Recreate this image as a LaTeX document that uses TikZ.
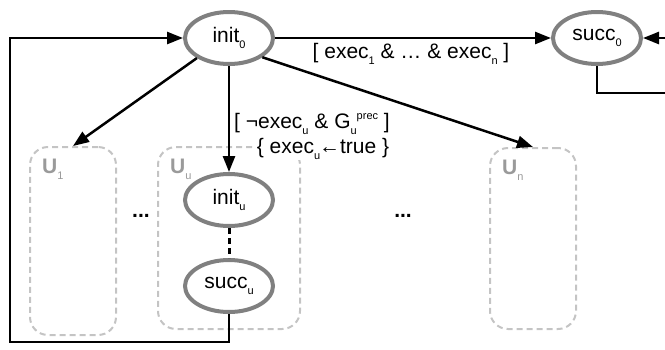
\documentclass[tikz,border=0pt]{standalone}
\usepackage{fontspec}
\setmainfont{Liberation Sans}
\usepackage{tikz}
\usetikzlibrary{arrows.meta,positioning,shapes.geometric}
\definecolor{stategray}{HTML}{808080}
\definecolor{boxgray}{HTML}{C4C4C4}
\definecolor{labelgray}{HTML}{9A9A9A}

% small lowered / raised indices
\newcommand{\subix}[1]{\raisebox{-6pt}{\fontsize{11}{11}\selectfont #1}}
\newcommand{\supix}[1]{\raisebox{9pt}{\fontsize{11}{11}\selectfont #1}}

\tikzset{
    state/.style={ellipse, draw=stategray, line width=4pt, fill=white, minimum width=88pt, minimum height=52pt, inner sep=0pt, font=\fontsize{21}{24}\selectfont},
    unitbox/.style={draw=boxgray, line width=2pt, dash pattern=on 6pt off 4pt, rounded corners=18pt, inner sep=0pt},
    ulabel/.style={text=labelgray, font=\fontsize{21}{24}\selectfont\bfseries, inner sep=0pt, anchor=base west},
    edge/.style={line width=2.5pt, -{Triangle[length=16pt,width=12pt]}},
    lbl/.style={font=\fontsize{21}{24}\selectfont, inner sep=1pt, anchor=base}
}

\begin{document}
\begin{tikzpicture}[x=1pt,y=-1pt]
    \useasboundingbox (0,0) rectangle (665,349);

    % Draw the dashed unit boxes
    \node[unitbox, minimum width=86pt, minimum height=188pt] (U1) at (73,241) {};
    \node[unitbox, minimum width=142pt, minimum height=182pt] (Uu) at (229,238) {};
    \node[unitbox, minimum width=86pt, minimum height=181pt] (Un) at (533,238.5) {};

    % Label the unit boxes
    \foreach \b/\i in {U1/1, Uu/u, Un/n}
        \node[ulabel] at ([xshift=13pt,yshift=-27pt]\b.north west) {U\subix{\mdseries\i}};

    % Draw the states
    \node[state] (init0) at (229,38) {init\subix{0}};
    \node[state] (succ0) at (597,38) {succ\subix{0}};
    \node[state] (initu) at (229,200) {init\subix{u}};
    \node[state] (succu) at (229,286) {succ\subix{u}};

    % Define coordinates for the loop corners
    \coordinate (loopL) at (10,342);
    \coordinate (loopR) at (668,93);

    % Connect the states
    \draw[edge] (init0) -- (succ0);
    \draw[edge] (init0.212) -- (U1.north);
    \draw[edge] (init0) -- (initu);
    \draw[edge] (init0.330) -- (Un.north);
    \draw[line width=3pt, dash pattern=on 6pt off 4pt] (initu) -- (succu);
    \draw[edge] (succu.south) |- (loopL) |- (init0.west);
    \draw[edge] (succ0.south) |- (loopR) |- (succ0.east);

    % Transition labels
    \node[lbl] (execall) at (411,58) {[ exec\subix{1} \& … \& exec\subix{n} ]};
    \node[lbl] (guard) at (312,128) {[ ¬exec\subix{u} \& G\subix{u}\supix{prec} ]};
    \node[lbl, fill=white] (update) at (323,153) {\{ exec\subix{u}\kern-1pt←true \}};

    % The dots between the boxes
    \node[lbl] (dotsA) at (141,217) {\textbf{...}};
    \node[lbl] (dotsB) at (403,217) {\textbf{...}};
\end{tikzpicture}
\end{document}
